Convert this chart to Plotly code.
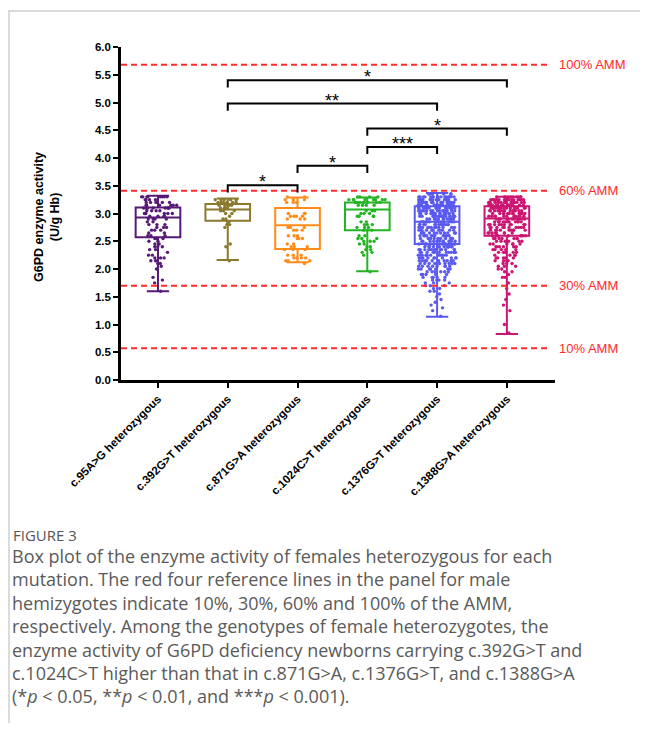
import numpy as np
import plotly.graph_objects as go

# ---------------- data ----------------
categories = ["c.95A>G heterozygous", "c.392G>T heterozygous", "c.871G>A heterozygous",
              "c.1024C>T heterozygous", "c.1376G>T heterozygous", "c.1388G>A heterozygous"]
colors = ["#561A76", "#8B7A2E", "#FF8C1A", "#22B422", "#5A5AF0", "#CC1573"]

q1 = [2.57, 2.87, 2.36, 2.70, 2.45, 2.60]
median = [2.93, 3.07, 2.79, 3.07, 2.85, 2.91]
q3 = [3.11, 3.17, 3.10, 3.20, 3.13, 3.13]
lowerfence = [1.60, 2.16, 2.12, 1.96, 1.14, 0.83]
upperfence = [3.32, 3.27, 3.29, 3.29, 3.37, 3.30]

# individual measurements, read as (value: count) from the dot clouds
pts_95 = {1.60: 1, 1.75: 1, 1.80: 1, 1.85: 1, 2.00: 1, 2.05: 1, 2.10: 2, 2.15: 2, 2.20: 3,
          2.25: 2, 2.30: 1, 2.35: 2, 2.40: 3, 2.45: 2, 2.50: 2, 2.55: 3, 2.60: 3, 2.65: 2,
          2.70: 3, 2.75: 3, 2.80: 3, 2.85: 2, 2.90: 4, 2.95: 4, 3.00: 5, 3.05: 4, 3.10: 8,
          3.15: 6, 3.20: 5, 3.25: 4, 3.30: 8}
pts_392 = {2.15: 1, 2.40: 1, 2.45: 1, 2.75: 1, 2.80: 2, 2.85: 2, 2.90: 2, 2.95: 1, 3.00: 2,
           3.05: 3, 3.10: 4, 3.15: 5, 3.20: 6, 3.25: 6}
pts_871 = {2.10: 1, 2.15: 3, 2.20: 4, 2.25: 3, 2.35: 3, 2.40: 3, 2.45: 2, 2.55: 3, 2.60: 3,
           2.70: 3, 2.75: 3, 2.90: 3, 2.95: 4, 3.00: 3, 3.20: 3, 3.25: 4, 3.30: 2}
pts_1024 = {1.95: 1, 2.25: 1, 2.30: 2, 2.35: 2, 2.40: 2, 2.45: 2, 2.50: 3, 2.55: 3, 2.60: 2,
            2.70: 3, 2.75: 3, 2.80: 3, 2.85: 2, 2.95: 4, 3.00: 3, 3.05: 3, 3.15: 4, 3.20: 8,
            3.25: 8, 3.30: 4}
pts_1376 = {1.15: 1, 1.25: 1, 1.30: 1, 1.35: 1, 1.40: 1, 1.45: 1, 1.50: 1, 1.55: 1, 1.60: 2,
            1.65: 2, 1.70: 3, 1.75: 3, 1.80: 4, 1.85: 5, 1.90: 5, 1.95: 6, 2.00: 7, 2.05: 8,
            2.10: 9, 2.15: 10, 2.20: 10, 2.25: 11, 2.30: 12, 2.35: 13, 2.40: 14, 2.45: 15,
            2.50: 12, 2.55: 11, 2.60: 11, 2.65: 11, 2.70: 12, 2.75: 13, 2.80: 14, 2.85: 14,
            2.90: 15, 2.95: 16, 3.00: 17, 3.05: 18, 3.10: 18, 3.15: 20, 3.20: 22, 3.25: 22,
            3.30: 16, 3.35: 6}
pts_1388 = {0.85: 1, 1.00: 1, 1.25: 1, 1.35: 1, 1.45: 1, 1.55: 1, 1.65: 1, 1.75: 1, 1.85: 2,
            1.90: 1, 1.95: 2, 2.00: 2, 2.05: 3, 2.10: 3, 2.15: 4, 2.20: 5, 2.25: 4, 2.30: 5,
            2.35: 5, 2.40: 6, 2.45: 6, 2.50: 6, 2.55: 7, 2.60: 8, 2.65: 8, 2.70: 9, 2.75: 10,
            2.80: 11, 2.85: 11, 2.90: 12, 2.95: 12, 3.00: 13, 3.05: 14, 3.10: 15, 3.15: 16,
            3.20: 18, 3.25: 18, 3.30: 10}
points = [pts_95, pts_392, pts_871, pts_1024, pts_1376, pts_1388]

ref_values = [0.57, 1.70, 3.41, 5.68]
ref_labels = ["10% AMM", "30% AMM", "60% AMM", "100% AMM"]

# significance comparisons: (group i, group j, label)
comparisons = [(1, 2, "*"), (2, 3, "*"), (3, 4, "***"), (3, 5, "*"), (1, 4, "**"), (1, 5, "*")]

caption_title = "FIGURE 3"
caption_lines = [
    "Box plot of the enzyme activity of females heterozygous for each",
    "mutation. The red four reference lines in the panel for male",
    "hemizygotes indicate 10%, 30%, 60% and 100% of the AMM,",
    "respectively. Among the genotypes of female heterozygotes, the",
    "enzyme activity of G6PD deficiency newborns carrying c.392G&gt;T and",
    "c.1024C&gt;T higher than that in c.871G&gt;A, c.1376G&gt;T, and c.1388G&gt;A",
    "(*<i>p</i> &lt; 0.05, **<i>p</i> &lt; 0.01, and ***<i>p</i> &lt; 0.001).",
]

# ---------------- layout geometry (page pixels; page body has an 8px margin) ----------------
OFF = 8
W, H = 648 - 2 * OFF, 731 - 2 * OFF
L, R, T, B = 121, 555, 46.7, 380.5
XR = [-0.53, 5.69]


def px_x(p):
    return (p - L) / (R - L)


def px_y(p):
    return (B - p) / (B - T)


FONT = "Liberation Sans, Arial, sans-serif"
fig = go.Figure()

for i, cat in enumerate(categories):
    fig.add_trace(go.Box(
        x=[i], q1=[q1[i]], median=[median[i]], q3=[q3[i]],
        lowerfence=[lowerfence[i]], upperfence=[upperfence[i]],
        width=0.64, whiskerwidth=0.5, fillcolor="rgba(255,255,255,0)",
        line=dict(color=colors[i], width=2), boxpoints=False,
        showlegend=False, hoverinfo="skip"))
    vals = np.repeat(np.array(list(points[i].keys()), dtype=float),
                     np.array(list(points[i].values()), dtype=int))
    fig.add_trace(go.Box(
        x=[i] * len(vals), y=vals, width=0.64, boxpoints="all", jitter=0.85, pointpos=0,
        fillcolor="rgba(0,0,0,0)", line=dict(width=0, color="rgba(0,0,0,0)"),
        marker=dict(color=colors[i], size=3.4), showlegend=False, hoverinfo="skip"))

shapes = []
annotations = []
# reference lines
for v, lab in zip(ref_values, ref_labels):
    shapes.append(dict(type="line", xref="x", yref="y", x0=XR[0], x1=5.6, y0=v, y1=v,
                       line=dict(color="#FF2A2A", width=2, dash="6px,4px"), layer="above"))
    annotations.append(dict(xref="paper", yref="y", x=px_x(557), y=v, text=lab,
                            xanchor="left", yanchor="middle", showarrow=False,
                            font=dict(family=FONT, size=13, color="#FF2A2A")))

# significance brackets
levels = [3.51, 3.86, 4.20, 4.53, 4.98, 5.40]
drop = 0.13
for (i, j, lab), lv in zip(comparisons, levels):
    shapes.append(dict(type="path", xref="x", yref="y",
                       path=f"M {i},{lv - drop} L {i},{lv} L {j},{lv} L {j},{lv - drop}",
                       line=dict(color="black", width=2)))
    annotations.append(dict(xref="x", yref="y", x=(i + j) / 2, y=lv, text=lab,
                            xanchor="center", yanchor="bottom", yshift=-9, showarrow=False,
                            font=dict(family=FONT, size=18, color="black")))

# y axis title
annotations.append(dict(xref="paper", yref="paper", x=px_x(47), y=px_y(217),
                        text="G6PD enzyme activity<br>(U/g Hb)", textangle=-90,
                        showarrow=False, xanchor="center", yanchor="middle",
                        font=dict(family=FONT, size=12.5, color="black", weight="bold")))

# page frame
shapes.append(dict(type="line", xref="paper", yref="paper", x0=px_x(8), x1=px_x(648),
                   y0=px_y(10.5), y1=px_y(10.5), line=dict(color="#CFCFCF", width=1.5)))
shapes.append(dict(type="line", xref="paper", yref="paper", x0=px_x(9), x1=px_x(9),
                   y0=px_y(10.5), y1=px_y(731), line=dict(color="#CFCFCF", width=1.5)))

# caption
CAP = "Open Sans, Noto Sans, sans-serif"
annotations.append(dict(xref="paper", yref="paper", x=px_x(11), y=px_y(536), text=caption_title,
                        xanchor="left", yanchor="middle", showarrow=False,
                        font=dict(family=CAP, size=15, color="#555555")))
annotations.append(dict(xref="paper", yref="paper", x=px_x(10), y=px_y(627),
                        text="<br>".join(caption_lines), align="left",
                        xanchor="left", yanchor="middle", showarrow=False,
                        font=dict(family=CAP, size=18, color="#5A5A5A")))

fig.update_layout(
    width=W, height=H, margin=dict(l=L - OFF, r=(OFF + W) - R, t=T - OFF, b=(OFF + H) - B),
    paper_bgcolor="white", plot_bgcolor="white", boxmode="overlay",
    shapes=shapes, annotations=annotations,
    xaxis=dict(range=XR, tickvals=list(range(len(categories))), ticktext=categories,
               tickangle=-45, showline=True, linecolor="black", linewidth=2.5,
               ticks="outside", ticklen=5, tickwidth=2, tickcolor="black",
               showgrid=False, zeroline=False,
               tickfont=dict(family=FONT, size=11.5, color="black", weight="bold")),
    yaxis=dict(range=[0, 6], dtick=0.5, tick0=0, tickformat=".1f", showline=True,
               linecolor="black", linewidth=2.5, ticks="outside", ticklen=5, tickwidth=2,
               tickcolor="black", showgrid=False, zeroline=False,
               tickfont=dict(family=FONT, size=11.5, color="black", weight="bold")),
)

fig.write_html("out.html")
